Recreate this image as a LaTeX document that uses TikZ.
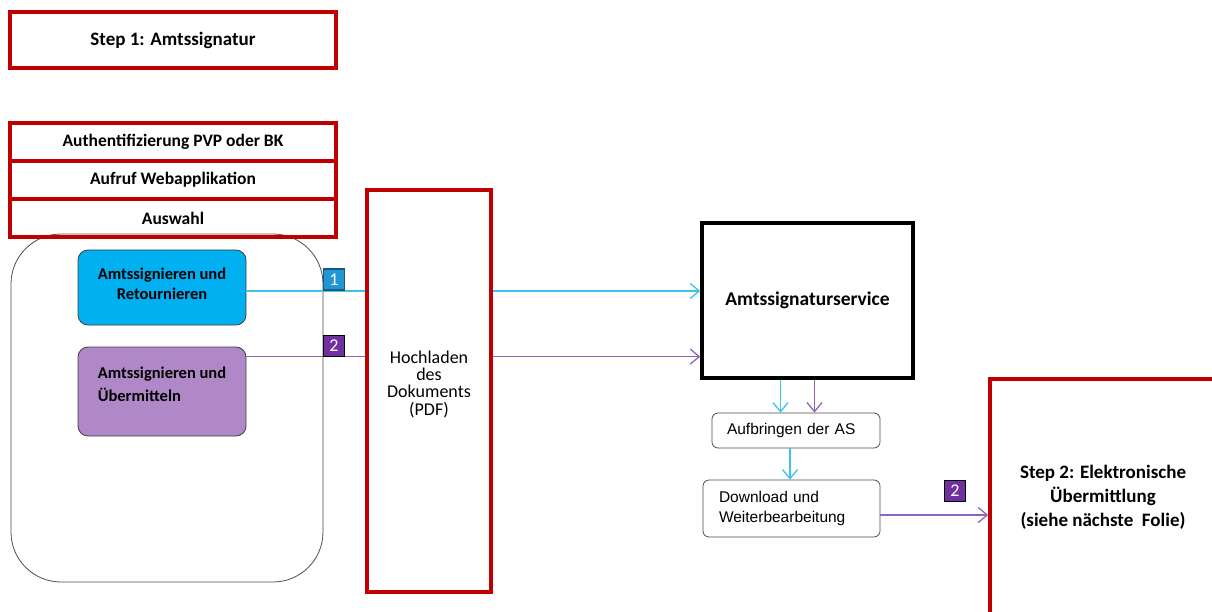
\documentclass[tikz,border=0pt]{standalone}
\usepackage{fontspec}
\setmainfont{Carlito}
\newfontfamily\arialfont{Liberation Sans}
\usepackage{xcolor}
\usetikzlibrary{positioning}
\usetikzlibrary{calc,arrows.meta}
\definecolor{dunkelrot}{HTML}{C00000}
\definecolor{hellblau}{HTML}{00B0F0}
\definecolor{linieblau}{HTML}{3CC3F0}
\definecolor{hellila}{HTML}{B088C8}
\definecolor{linielila}{HTML}{9462B8}
\definecolor{badgeblau}{HTML}{2196D3}
\definecolor{badgelila}{HTML}{7030A0}
\tikzset{
  kasten/.style = {align=center, inner sep=2pt, text centered,
    font=\bfseries\fontsize{19}{24}\selectfont},
  rotbox/.style = {kasten, rectangle, draw=dunkelrot,
    line width=3.5pt},% roter Rahmen
  stufe/.style = {rotbox, minimum width=326pt, minimum height=38pt,
    outer sep=0pt, font=\bfseries\fontsize{17.5}{18}\selectfont},% Stapel oben links
  auswahl/.style = {kasten, rectangle, rounded corners=10pt, draw=black!75,
    line width=0.8pt, minimum width=168pt,
    font=\bfseries\fontsize{16.5}{20}\selectfont},% Auswahlknopf
  schritt/.style = {kasten, rectangle, rounded corners=6pt, draw=black!70,
    line width=0.8pt, align=left,
    font=\arialfont\fontsize{15.5}{20}\selectfont},% Arbeitsschritt
  nummer/.style = {rectangle, inner sep=0pt, minimum size=21pt,
    line width=1.5pt, text=white, font=\fontsize{18}{18}\selectfont},% Ziffer
  linie1/.style = {draw=linieblau, line width=1.3pt},
  linie2/.style = {draw=linielila, line width=1.3pt},
  pfeil/.style = {-{Straight Barb[length=9pt,width=15pt,line width=1.3pt]}}
}
\begin{document}
\begin{tikzpicture}[x=1pt,y=-1pt]
\useasboundingbox (0,0) rectangle (1212,612);
% Rahmen um die Auswahl
\node [draw=black!70, line width=0.8pt, rounded corners=50pt,
  minimum width=312pt, minimum height=348pt] (rahmen) at (167,408) {};
\node [rotbox, minimum width=326pt, minimum height=56pt] (step1) at (173,40)
  {Step 1: Amtssignatur};
\node [stufe] (auth) at (173,142) {Authentifizierung PVP oder BK};
\node [stufe, below=0pt of auth] (aufruf) {Aufruf Webapplikation};
\node [stufe, below=0pt of aufruf] (wahl) {Auswahl};
\node [auswahl, fill=hellblau, minimum height=75pt, text depth=8pt] (blau) at (162,287.5)
  {Amtssignieren und\\Retournieren};
\node [auswahl, fill=hellila, minimum height=89pt, align=left,
  text depth=14pt, font=\bfseries\fontsize{16.5}{23}\selectfont] (lila) at (162,391.5)
  {Amtssignieren und\\\"Ubermitteln};
\node [rotbox, minimum width=124pt, minimum height=402pt, text depth=16pt,
  font=\fontsize{18}{17.3}\selectfont] (hoch) at (429,391)
  {Hochladen\\des\\Dokuments\\(PDF)};
\node [kasten, draw=black, line width=3.5pt, minimum width=211pt,
  minimum height=155pt, font=\bfseries\fontsize{19.5}{20}\selectfont] (service) at (807.5,300.5)
  {Amtssignaturservice};
\node [schritt, minimum width=168pt, minimum height=35pt, text width=138pt] (aufbringen) at (796,430.5)
  {Aufbringen der AS};
\node [schritt, minimum width=177pt, minimum height=57pt, text width=145pt] (download) at (791.5,508.5)
  {Download und\\Weiterbearbeitung};
\node [rotbox, minimum width=226pt, minimum height=237pt] (step2) at (1103,497.5)
  {Step 2: Elektronische\\\"Ubermittlung\\(siehe n\"achste\ \ Folie)};
% Verbindungen
\coordinate (b1) at ([yshift=-3.5pt]blau.east);
\coordinate (l1) at ([yshift=-10pt]lila.north east);
\draw [linie1] (b1) -- (b1 -| hoch.west);
\draw [linie1, pfeil] (b1 -| hoch.east) -- (b1 -| service.west);
\draw [linie2] (l1) -- (l1 -| hoch.west);
\draw [linie2, pfeil] (l1 -| hoch.east) -- (l1 -| service.west);
\draw [linie1, pfeil] ([xshift=-27pt]service.south) -- ([xshift=-27pt]service.south |- aufbringen.north);
\draw [linie2, pfeil] ([xshift=7pt]service.south) -- ([xshift=7pt]service.south |- aufbringen.north);
\draw [linie1, pfeil] ([xshift=-6pt]aufbringen.south) -- ([xshift=-6pt]aufbringen.south |- download.north);
\coordinate (d1) at ([yshift=-6.5pt]download.east);
\draw [linie2, pfeil] (d1) -- (d1 -| step2.west);
% Nummern
\node [nummer, fill=badgeblau, draw=badgeblau!60!black] (n1) at (334,279.5) {1};
\node [nummer, fill=badgelila, draw=black] (n2) at (334,346) {2};
\node [nummer, fill=badgelila, draw=black] (n3) at (955,491) {2};
\end{tikzpicture}
\end{document}
